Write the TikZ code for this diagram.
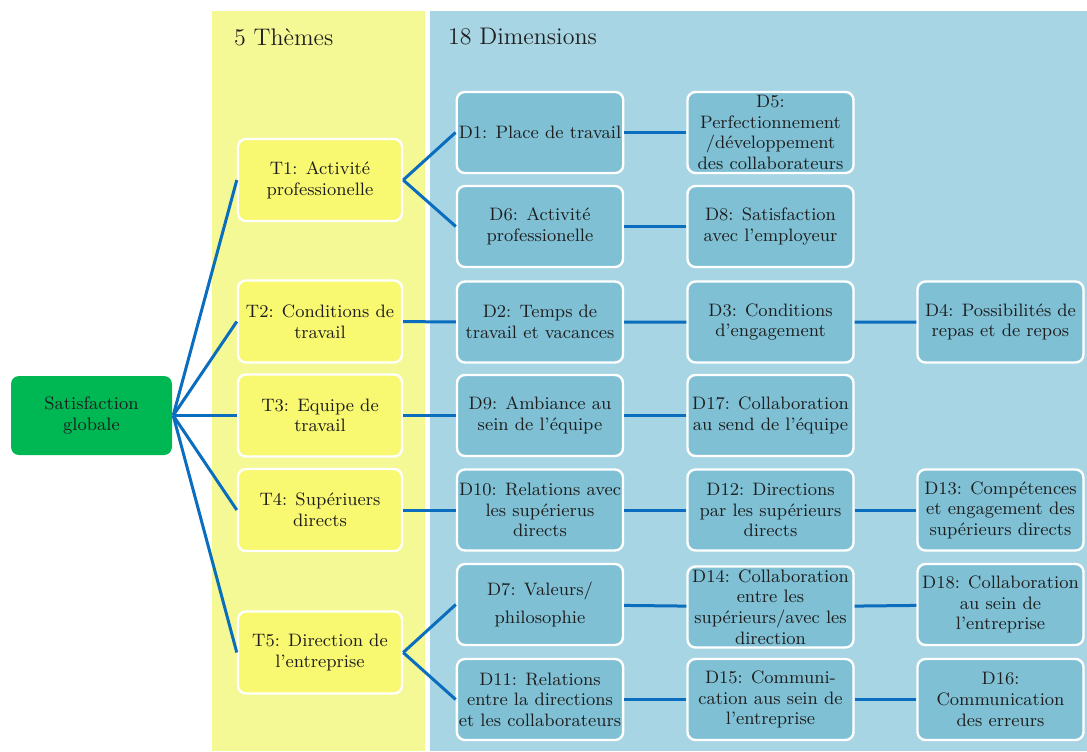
\documentclass[tikz,border=0pt]{standalone}
\usepackage{fontspec}
\usepackage{xcolor}

\definecolor{themebg}{HTML}{F4F995}
\definecolor{dimbg}{HTML}{A7D5E3}
\definecolor{themefill}{HTML}{F8F871}
\definecolor{dimfill}{HTML}{7FC0D5}
\definecolor{globfill}{HTML}{00B853}
\definecolor{linkblue}{HTML}{0A6DBE}
\definecolor{inkc}{HTML}{1E1E1E}

\begin{document}
\begin{tikzpicture}[x=0.5pt, y=-0.5pt, font=\fontsize{9}{10.3}\selectfont, text=inkc,
  box/.style={draw=white, line width=1.2pt, rounded corners=4pt, align=center, inner sep=1pt},
  theme/.style={box, fill=themefill, minimum width=82pt, minimum height=41pt},
  dim/.style={box, fill=dimfill, minimum width=83pt, minimum height=40.5pt},
  head/.style={anchor=west, font=\fontsize{12}{14}\selectfont},
  link/.style={draw=linkblue, line width=1.5pt}]
\useasboundingbox (0,0) rectangle (1087,751);
% columns
\fill[themebg] (212,11) rectangle (425,751);
\fill[dimbg] (430,11) rectangle (1087,751);
\node[head] (hthemes) at (227,37) {5 Thèmes};
\node[head] (hdims) at (441,37) {18 Dimensions};
% root
\node[box, draw=none, fill=globfill, minimum width=80.5pt, minimum height=39.5pt] (sat) at (91.5,415.5) {Satisfaction\\globale};
% themes
\node[theme] (t1) at (320,180) {T1: Activité\\professionelle};
\node[theme] (t2) at (320,321.5) {T2: Conditions de\\travail};
\node[theme] (t3) at (320,415.5) {T3: Equipe de\\travail};
\node[theme] (t4) at (320,510) {T4: Supériuers\\directs};
\node[theme] (t5) at (320,652.5) {T5: Direction de\\l’entreprise};
% dimensions
\node[dim] (d1) at (540,132.5) {D1: Place de travail};
\node[dim] (d5) at (770.5,132.5) {D5:\\Perfectionnement\\/développement\\des collaborateurs};
\node[dim] (d6) at (540,226.5) {D6: Activité\\professionelle};
\node[dim] (d8) at (770.5,226.5) {D8: Satisfaction\\avec l’employeur};
\node[dim] (d2) at (540,322) {D2: Temps de\\travail et vacances};
\node[dim] (d3) at (770.5,322) {D3: Conditions\\d’engagement};
\node[dim] (d4) at (1000.5,322) {D4: Possibilités de\\repas et de repos};
\node[dim] (d9) at (540,415.5) {D9: Ambiance au\\sein de l’équipe};
\node[dim] (d17) at (770.5,415.5) {D17: Collaboration\\au send de l’équipe};
\node[dim] (d10) at (540,510) {D10: Relations avec\\les supérierus\\directs};
\node[dim] (d12) at (770.5,510) {D12: Directions\\par les supérieurs\\directs};
\node[dim] (d13) at (1000.5,510) {D13: Compétences\\et engagement des\\supérieurs directs};
\node[dim] (d7) at (540,604.5) {D7: Valeurs/\\[4pt]philosophie};
\node[dim] (d14) at (770.5,607) {D14: Collaboration\\entre les\\supérieurs/avec les\\direction};
\node[dim] (d18) at (1000.5,604.5) {D18: Collaboration\\au sein de\\l’entreprise};
\node[dim] (d11) at (540,699.5) {D11: Relations\\entre la directions\\et les collaborateurs};
\node[dim] (d15) at (770.5,699.5) {D15: Communi-\\cation aus sein de\\l’entreprise};
\node[dim] (d16) at (1000.5,699.5) {D16:\\Communication\\des erreurs};
% links
\draw[link] (sat.east) -- (t1.west);
\draw[link] (sat.east) -- (t2.west);
\draw[link] (sat.east) -- (t3.west);
\draw[link] (sat.east) -- (t4.west);
\draw[link] (sat.east) -- (t5.west);
\draw[link] (t1.east) -- (d1.west);
\draw[link] (t1.east) -- (d6.west);
\draw[link] (d1) -- (d5);
\draw[link] (d6) -- (d8);
\draw[link] (t2) -- (d2) -- (d3) -- (d4);
\draw[link] (t3) -- (d9) -- (d17);
\draw[link] (t4) -- (d10) -- (d12) -- (d13);
\draw[link] (t5.east) -- (d7.west);
\draw[link] (t5.east) -- (d11.west);
\draw[link] (d7) -- (d14) -- (d18);
\draw[link] (d11) -- (d15) -- (d16);
\end{tikzpicture}
\end{document}
